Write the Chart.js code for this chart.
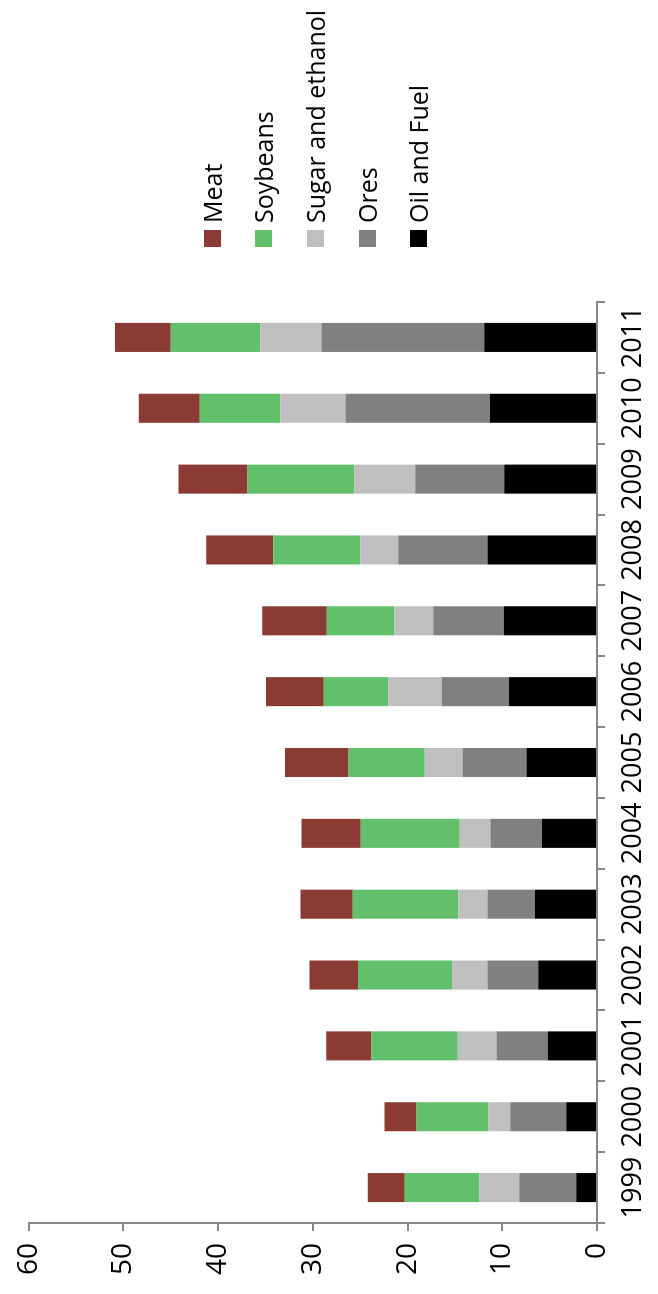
<!DOCTYPE html>
<html>
<head>
<meta charset="utf-8">
<script src="https://cdn.jsdelivr.net/npm/chart.js@4.4.1/dist/chart.umd.min.js"></script>
<style>
  html, body { margin: 0; padding: 0; background: #fff; overflow: hidden; }
  /* chart is laid out landscape, then turned a quarter turn */
  #wrap {
    position: absolute; left: 0; top: 0;
    width: 1294px; height: 658px;
    transform-origin: 0 0;
    transform: translate(0, 1294px) rotate(-90deg);
    font-family: "Open Sans", sans-serif;
  }
  #exports { position: absolute; left: 0; top: 0; }
  #legend { position: absolute; left: 1047px; top: 0; }
  .item { position: absolute; left: 0; height: 30px; display: flex; align-items: center; white-space: nowrap; }
  .swatch { width: 17px; height: 17px; margin-right: 7px; }
  .item span { font-size: 25px; color: #000; }
</style>
</head>
<body>
<div id="wrap">
  <canvas id="exports" width="1294" height="658"></canvas>
  <div id="legend"></div>
</div>
<script>
// export values by product group, 1999-2011
const years = ["1999", "2000", "2001", "2002", "2003", "2004", "2005", "2006", "2007", "2008", "2009", "2010", "2011"];
const oilFuel = [2.2, 3.25, 5.2, 6.2, 6.55, 5.8, 7.45, 9.3, 9.85, 11.55, 9.8, 11.3, 11.9];
const ores = [6.0, 5.9, 5.4, 5.35, 5.0, 5.45, 6.75, 7.1, 7.45, 9.45, 9.4, 15.25, 17.2];
const sugarEthanol = [4.2, 2.3, 4.1, 3.75, 3.1, 3.25, 4.0, 5.65, 4.1, 4.0, 6.4, 6.9, 6.45];
const soybeans = [7.9, 7.6, 9.1, 9.95, 11.15, 10.45, 8.05, 6.8, 7.15, 9.2, 11.3, 8.5, 9.45];
const meat = [3.9, 3.4, 4.8, 5.1, 5.5, 6.25, 6.7, 6.1, 6.8, 7.05, 7.3, 6.45, 5.9];
const valueTicks = [0, 10, 20, 30, 40, 50, 60];

const axisGrey = "#868686";

const series = [
  { label: "Oil and Fuel", data: oilFuel, color: "#000000" },
  { label: "Ores", data: ores, color: "#808080" },
  { label: "Sugar and ethanol", data: sugarEthanol, color: "#bfbfbf" },
  { label: "Soybeans", data: soybeans, color: "#62bf6a" },
  { label: "Meat", data: meat, color: "#8b3b34" },
];

const chart = new Chart(document.getElementById("exports"), {
  type: "bar",
  data: {
    labels: years,
    datasets: series.map((s) => ({
      label: s.label,
      data: s.data,
      backgroundColor: s.color,
      borderWidth: 0,
      barPercentage: 0.41,
      categoryPercentage: 1,
    })),
  },
  options: {
    responsive: false,
    animation: false,
    devicePixelRatio: 1,
    layout: { padding: { top: 25, right: 302, left: 0, bottom: 0 } },
    plugins: {
      legend: { display: false },
      tooltip: { enabled: false },
    },
    scales: {
      x: {
        stacked: true,
        grid: { offset: true, drawOnChartArea: false, tickLength: 8, color: axisGrey, lineWidth: 2 },
        border: { color: axisGrey, width: 2 },
        ticks: { color: "#000", font: { family: "Open Sans", size: 27 }, padding: 12, maxRotation: 0 },
        afterFit: (scale) => { scale.height = 61; },
      },
      y: {
        stacked: true,
        min: 0,
        max: 60,
        afterBuildTicks: (scale) => { scale.ticks = valueTicks.map((v) => ({ value: v })); },
        grid: { drawOnChartArea: false, tickLength: 8, color: axisGrey, lineWidth: 2 },
        border: { color: axisGrey, width: 2 },
        ticks: { color: "#000", font: { family: "Open Sans", size: 28 }, padding: 12 },
        afterFit: (scale) => { scale.width = 71; },
      },
    },
  },
});

// legend lists the stack top-down
const legendEl = document.getElementById("legend");
const rowCentres = [212, 263, 315, 367, 418];
series.slice().reverse().forEach((s, i) => {
  const row = document.createElement("div");
  row.className = "item";
  row.style.top = rowCentres[i] - 15 + "px";
  const sw = document.createElement("div");
  sw.className = "swatch";
  sw.style.background = s.color;
  const txt = document.createElement("span");
  txt.textContent = s.label;
  row.appendChild(sw);
  row.appendChild(txt);
  legendEl.appendChild(row);
});
</script>
</body>
</html>
